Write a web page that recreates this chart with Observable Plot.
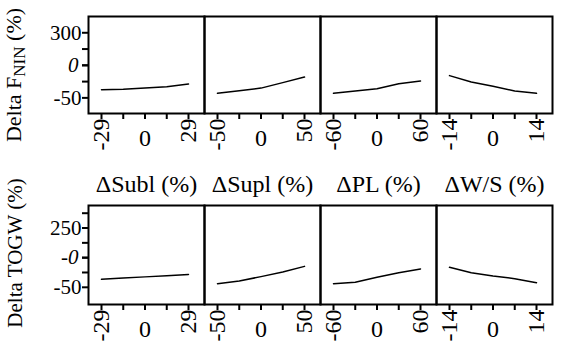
<!DOCTYPE html>
<html>
<head>
<meta charset="utf-8">
<script src="https://cdn.jsdelivr.net/npm/d3@7"></script>
<script src="https://cdn.jsdelivr.net/npm/@observablehq/plot@0.6"></script>
<style>
  html, body { margin: 0; padding: 0; background: #fff; }
  #chart { position: relative; width: 561px; height: 356px; overflow: hidden; font-family: "Liberation Serif", serif; color: #000; }
  #chart .panel { position: absolute; }
  #chart svg, #chart svg text { font-family: "Liberation Serif", serif !important; font-variant: normal !important; }
  .ylab { position: absolute; white-space: nowrap; font-size: 21px; transform: translate(-50%, -50%) rotate(-90deg); }
  .ylab.fin { font-size: 22px; }
  .ylab sub { font-size: 17px; vertical-align: -4px; }
</style>
</head>
<body>
<div id="chart"></div>
<script>
// ---- data ----
const factorTitles = ["ΔSubl (%)", "ΔSupl (%)", "ΔPL (%)", "ΔW/S (%)"];
const factorDomains = [[-29, 29], [-50, 50], [-60, 60], [-14, 14]];
const xLabelTicks = [[-29, 0, 29], [-50, 0, 50], [-60, 0, 60], [-14, 0, 14]];
const xMinorTicks = [[-14.5, 14.5], [-25, 25], [-30, 30], [-7, 7]];

const xSubl = [-29, -14.5, 0, 14.5, 29];
const xSupl = [-50, -25, 0, 25, 50];
const xPL = [-60, -30, 0, 30, 60];
const xWS = [-14, -7, 0, 7, 14];

// Delta F_NIN (%) profiles
const finSubl = [-37.4, -36.9, -34.9, -32.8, -28.8];
const finSupl = [-43, -39, -35, -26.6, -18];
const finPL = [-43, -39.5, -35.9, -28.2, -24.2];
const finWS = [-15.8, -25.6, -32.3, -39.5, -43];

// Delta TOGW (%) profiles
const togwSubl = [-36.6, -34.5, -32.4, -30.3, -28.2];
const togwSupl = [-43.8, -39.3, -32, -24.1, -14.7];
const togwPL = [-43.8, -41.6, -33.2, -25.3, -19.1];
const togwWS = [-16.3, -25.3, -30.9, -35.4, -42.2];

// y axis ticks and (as printed) labels
const yTicksFin = [-50, -25, 0, 25, 50];
const yLabelsFin = ["-50", "", "0", "", "300"];
const yTicksTogw = [-50, -25, 0, 25, 50, 75];
const yLabelsTogw = ["-50", "", "-0", "", "250", ""];

const xSeries = [xSubl, xSupl, xPL, xWS];
const rows = [
  {name: "fin", series: [finSubl, finSupl, finPL, finWS], ticks: yTicksFin, labels: yLabelsFin,
   domain: [-74, 75], frameTop: 16, frameH: 97},
  {name: "togw", series: [togwSubl, togwSupl, togwPL, togwWS], ticks: yTicksTogw, labels: yLabelsTogw,
   domain: [-79, 88], frameTop: 205, frameH: 99}
];

const chart = document.getElementById("chart");
const panelW = 116;
const firstLeft = 88;
const FF = "Liberation Serif";
const FSY = 21;   // y tick labels
const FSX = 24;   // x tick labels
const FST = 24;   // factor titles

rows.forEach((row, r) => {
  for (let c = 0; c < 4; c++) {
    const first = c === 0;
    const ml = first ? 88 : 2;
    const mr = 8;
    const mt = r === 0 ? 14 : 34;
    const mb = 50;
    const data = xSeries[c].map((x, i) => ({x, y: row.series[c][i]}));
    const lab = d => row.labels[row.ticks.indexOf(d)];
    const marks = [
      Plot.frame({stroke: "#000", strokeWidth: 2}),
      Plot.axisX({ticks: xLabelTicks[c].concat(xMinorTicks[c]), tickSize: 6, strokeWidth: 2, text: null, label: null}),
      Plot.axisX({ticks: xLabelTicks[c].filter(d => d !== 0), tickSize: 0, tickPadding: 5, tickRotate: -90,
        fontSize: FSX, fontFamily: FF, label: null, tickFormat: d => String(d)}),
      Plot.axisX({ticks: [0], tickSize: 0, tickPadding: 15, fontSize: FSX, fontFamily: FF, label: null,
        tickFormat: d => String(d)}),
      Plot.line(data, {x: "x", y: "y", stroke: "#000", strokeWidth: 1.5})
    ];
    if (first) {
      marks.push(
        Plot.axisY({ticks: row.ticks, tickSize: 6, strokeWidth: 2, tickPadding: 1, fontSize: FSY, fontFamily: FF,
          label: null, tickFormat: d => d === 0 ? "" : lab(d)}),
        Plot.axisY({ticks: [0], tickSize: 6, strokeWidth: 2, tickPadding: 4, fontSize: FSY, fontFamily: FF,
          fontStyle: "italic", label: null, tickFormat: d => lab(d)})
      );
    }
    if (r === 1) {
      marks.push(Plot.text([factorTitles[c]], {frameAnchor: "top", lineAnchor: "middle", dy: -21,
        fontSize: FST, fontFamily: FF, text: d => d}));
    }
    const p = Plot.plot({
      width: ml + panelW + mr,
      height: mt + row.frameH + mb,
      marginLeft: ml, marginRight: mr, marginTop: mt, marginBottom: mb,
      style: {background: "transparent", overflow: "visible"},
      x: {domain: factorDomains[c], range: [ml + 13, ml + 100], axis: null},
      y: {domain: row.domain, axis: null},
      marks
    });
    p.classList.add("panel");
    p.style.left = (firstLeft + c * panelW - ml) + "px";
    p.style.top = (row.frameTop - mt) + "px";
    chart.appendChild(p);
  }
});

const yl1 = document.createElement("div");
yl1.className = "ylab fin";
yl1.innerHTML = "Delta F<sub>NIN</sub> (%)";
yl1.style.left = "15px"; yl1.style.top = "75px";
chart.appendChild(yl1);

const yl2 = document.createElement("div");
yl2.className = "ylab";
yl2.textContent = "Delta TOGW (%)";
yl2.style.left = "15px"; yl2.style.top = "253px";
chart.appendChild(yl2);
</script>
</body>
</html>
